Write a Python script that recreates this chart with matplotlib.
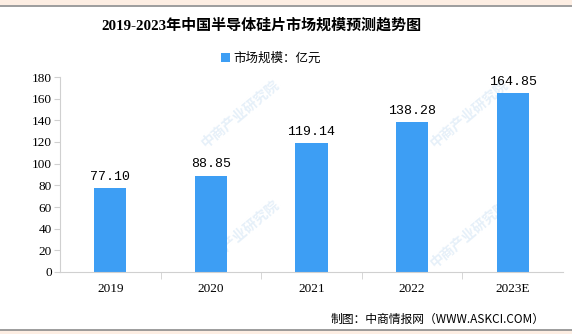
import matplotlib.pyplot as plt
from matplotlib.patches import Rectangle

years = ['2019', '2020', '2021', '2022', '2023E']
market_size = [77.10, 88.85, 119.14, 138.28, 164.85]

plt.rcParams['font.family'] = ['Liberation Serif', 'Noto Sans CJK SC', 'DejaVu Sans']
bar_color = '#3d9ef4'

fig = plt.figure(figsize=(5.72, 3.34), dpi=100)
fig.patch.set_facecolor('white')

# top and bottom bands
fig.add_artist(Rectangle((0, 1 - 5 / 334), 1, 5 / 334, transform=fig.transFigure,
                         facecolor='#fdeee3', edgecolor='none'))
fig.add_artist(plt.Line2D([0, 1], [1 - 5.5 / 334] * 2, transform=fig.transFigure,
                          color='#8c8c8c', lw=1.2))
fig.add_artist(Rectangle((0, 0), 1, 4 / 334, transform=fig.transFigure,
                         facecolor='#fdeee3', edgecolor='none'))
fig.add_artist(plt.Line2D([0, 1], [4.5 / 334] * 2, transform=fig.transFigure,
                          color='#8c8c8c', lw=1.2))

# faint watermark
for wx, wy in [(0.42, 0.66), (0.82, 0.66), (0.42, 0.30), (0.82, 0.30)]:
    fig.text(wx, wy, '中商产业研究院', rotation=40, fontsize=10, color='#e6f0f9',
             family=['Noto Sans CJK SC'], weight='bold', ha='center', va='center', zorder=-1)

ax = fig.add_axes([60 / 572, (334 - 272) / 334, 503 / 572, 195 / 334])
ax.patch.set_alpha(0)
x = range(len(years))
bars = ax.bar(x, market_size, width=0.32, color=bar_color, label='市场规模：亿元', zorder=2)
for a, b in zip(x, market_size):
    ax.text(a, b + 5, '%.2f' % b, ha='center', va='bottom', fontsize=9.5,
            family=['Liberation Mono', 'DejaVu Sans Mono'], zorder=3)

ax.set_xlim(-0.5, len(years) - 0.5)
ax.set_ylim(0, 180)
ax.set_yticks(range(0, 181, 20))
ax.set_xticks(x)
ax.set_xticklabels(years)
ax.set_xticks([i + 0.5 for i in range(len(years) - 1)], minor=True)
ax.tick_params(axis='x', which='major', length=0, pad=8, labelsize=9.5)
ax.tick_params(axis='x', which='minor', length=5, color='#d0d0d0')
ax.tick_params(axis='y', length=4, color='#d0d0d0', labelsize=9.5, pad=2)
for s in ['top', 'right']:
    ax.spines[s].set_visible(False)
ax.spines['left'].set_color('#d0d0d0')
ax.spines['bottom'].set_color('#d0d0d0')

fig.text(0.457, 1 - 25 / 334, '2019-2023年中国半导体硅片市场规模预测趋势图', ha='center', va='center',
         fontsize=10.8, weight='bold', family=['Liberation Serif', 'Noto Sans CJK SC'])
fig.legend(handles=[bars], loc='center', bbox_to_anchor=(0.474, 1 - 58 / 334), frameon=False,
           handlelength=0.7, handleheight=0.7, handletextpad=0.3,
           prop={'family': ['Noto Sans CJK SC'], 'size': 9})
fig.text(545 / 572, 1 - 319 / 334, '制图：中商情报网（WWW.ASKCI.COM）', ha='right', va='center',
         fontsize=8.5, family=['Noto Sans CJK SC', 'DejaVu Sans'])

plt.savefig('out.png', dpi=100)
